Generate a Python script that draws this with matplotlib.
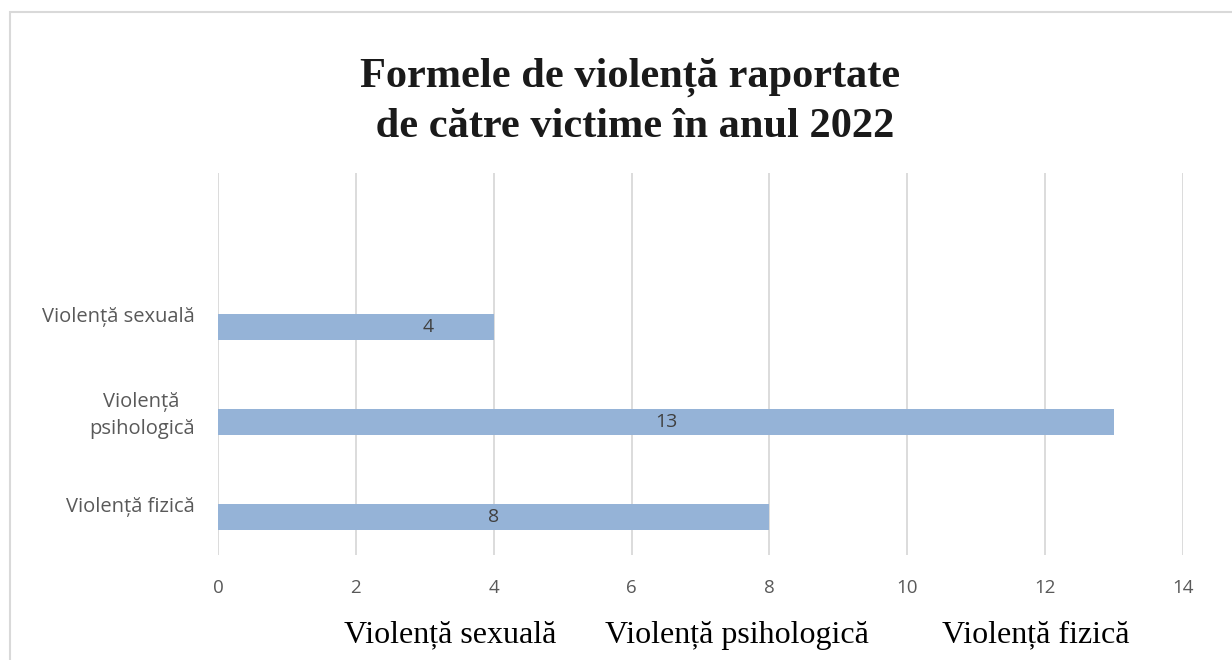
import matplotlib.pyplot as plt
from matplotlib.patches import Rectangle

categories = ['Violență fizică', 'Violență\npsihologică', 'Violență sexuală']
values = [8, 13, 4]
label_pos = [4, 6.5, 3.05]
legend_names = ['Violență sexuală', 'Violență psihologică', 'Violență fizică']

bar_color = '#95b3d7'
text_gray = '#595959'

fig = plt.figure(figsize=(12.32, 6.6), dpi=100)
W, H = 1232, 660

# outer chart border (runs off the right and bottom edges)
fig.patches.append(Rectangle((10 / W, -0.05), 1.2, 1 - 12 / H + 0.05,
                             transform=fig.transFigure, fill=False,
                             edgecolor='#d9d9d9', linewidth=1.5))

ax = fig.add_axes([218 / W, 1 - 555 / H, (1183 - 218) / W, (555 - 173) / H])
ypos = list(range(len(categories)))
ax.barh(ypos, values, height=0.265, color=bar_color, zorder=3)

for y, v, lx in zip(ypos, values, label_pos):
    ax.text(lx, y, str(v), ha='center', va='center', fontsize=14,
            color='#404040', family='Open Sans', zorder=4)

ax.set_xlim(0, 14)
ax.set_ylim(-0.4, -0.4 + 382 / 95)
ax.set_xticks(range(0, 15, 2))
ax.set_yticks([y + 0.13 for y in ypos])
ax.set_yticklabels(categories, family='Open Sans', fontsize=14.5,
                   color=text_gray, multialignment='center', linespacing=1.45)
for lbl in ax.get_xticklabels():
    lbl.set_family('Open Sans')
    lbl.set_fontsize(13.5)
    lbl.set_color(text_gray)
ax.tick_params(axis='both', length=0)
ax.tick_params(axis='y', pad=17)
ax.tick_params(axis='x', pad=17)
ax.grid(axis='x', color='#d9d9d9', linewidth=1.3, zorder=0)
for s in ax.spines.values():
    s.set_visible(False)

fig.text(630 / W, 1 - 102 / H,
         'Formele de violență raportate\n de către victime în anul 2022',
         ha='center', va='center', fontsize=30.5, fontweight='bold',
         family='Liberation Serif', color='#1a1a1a', linespacing=1.4)

for name, cx in zip(legend_names, [450, 737, 1036]):
    fig.text(cx / W, 1 - 635 / H, name, ha='center', va='center',
             fontsize=23, family='Liberation Serif', color='black')

fig.savefig('out.png', dpi=100, facecolor='white')
